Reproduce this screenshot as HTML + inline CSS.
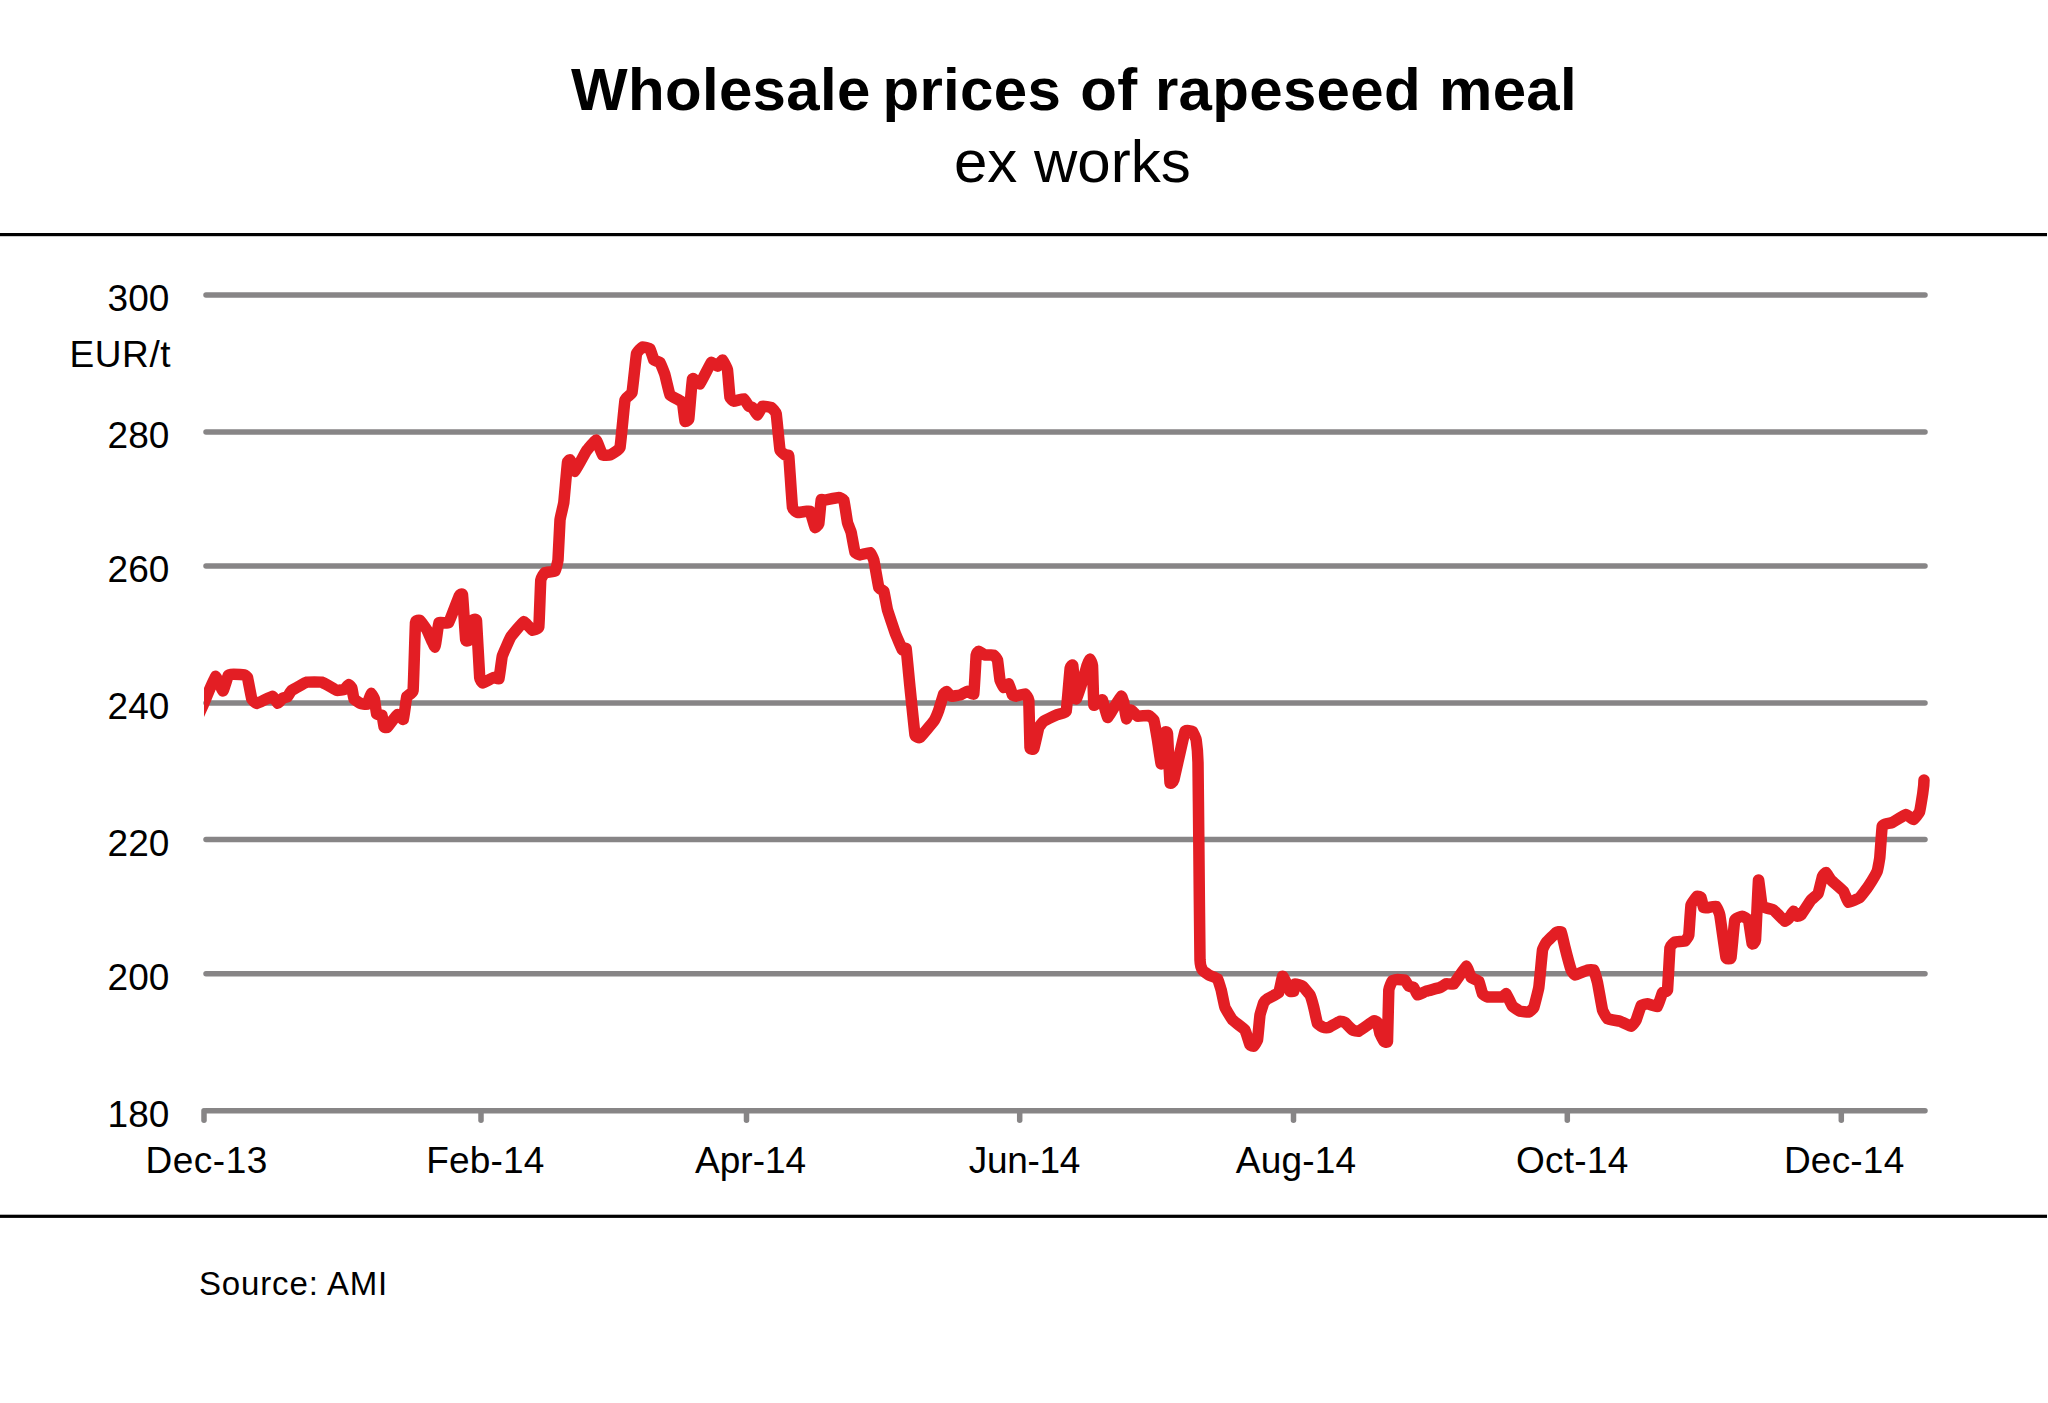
<!DOCTYPE html>
<html><head><meta charset="utf-8"><title>Wholesale prices of rapeseed meal</title>
<style>
html,body{margin:0;padding:0;background:#fff;}
body{width:2048px;height:1403px;overflow:hidden;font-family:"Liberation Sans",sans-serif;}
svg{display:block;}
text{font-family:"Liberation Sans",sans-serif;fill:#000;}
.ax text{font-size:37px;}
</style></head><body>
<svg width="2048" height="1403" viewBox="0 0 2048 1403">
<rect width="2048" height="1403" fill="#fff"/>
<text x="571" y="109.5" font-size="60" font-weight="bold" letter-spacing="0.32">Wholesale <tspan dx="-5.2">prices</tspan> <tspan dx="2.2">of</tspan> <tspan dx="0.3">rapeseed</tspan> <tspan dx="1">meal</tspan></text>
<text x="1072.3" y="181.5" text-anchor="middle" font-size="60">ex works</text>
<rect x="0" y="233" width="2047" height="3.2" fill="#000"/>
<rect x="0" y="1214.7" width="2047" height="3.2" fill="#000"/>
<g stroke="#878586" stroke-width="5.5" stroke-linecap="round" fill="none">
<line x1="206" y1="295" x2="1925" y2="295"/>
<line x1="206" y1="432" x2="1925" y2="432"/>
<line x1="206" y1="566" x2="1925" y2="566"/>
<line x1="206" y1="703" x2="1925" y2="703"/>
<line x1="206" y1="839.5" x2="1925" y2="839.5"/>
<line x1="206" y1="973.8" x2="1925" y2="973.8"/>
<line x1="206" y1="1110.8" x2="1925" y2="1110.8"/>
<line x1="204" y1="1110.8" x2="204" y2="1120.3"/>
<line x1="481" y1="1110.8" x2="481" y2="1120.3"/>
<line x1="746.5" y1="1110.8" x2="746.5" y2="1120.3"/>
<line x1="1019.7" y1="1110.8" x2="1019.7" y2="1120.3"/>
<line x1="1293.5" y1="1110.8" x2="1293.5" y2="1120.3"/>
<line x1="1567.3" y1="1110.8" x2="1567.3" y2="1120.3"/>
<line x1="1841.3" y1="1110.8" x2="1841.3" y2="1120.3"/>
</g>
<g class="ax">
<text x="169.3" y="311" text-anchor="end">300</text>
<text x="169.3" y="448" text-anchor="end">280</text>
<text x="169.3" y="582" text-anchor="end">260</text>
<text x="169.3" y="719" text-anchor="end">240</text>
<text x="169.3" y="855.5" text-anchor="end">220</text>
<text x="169.3" y="989.8" text-anchor="end">200</text>
<text x="169.3" y="1126.8" text-anchor="end">180</text>
<text x="171.2" y="367" text-anchor="end" letter-spacing="0.6">EUR/t</text>
<text x="206.7" y="1172.5" text-anchor="middle" letter-spacing="0.5">Dec-13</text>
<text x="485.4" y="1172.5" text-anchor="middle" letter-spacing="0.2">Feb-14</text>
<text x="750.6" y="1172.5" text-anchor="middle" letter-spacing="0.0">Apr-14</text>
<text x="1024.4" y="1172.5" text-anchor="middle" letter-spacing="-0.3">Jun-14</text>
<text x="1296.1" y="1172.5" text-anchor="middle" letter-spacing="0.2">Aug-14</text>
<text x="1572.3" y="1172.5" text-anchor="middle" letter-spacing="0.3">Oct-14</text>
<text x="1844.2" y="1172.5" text-anchor="middle" letter-spacing="0.2">Dec-14</text>
</g>
<text x="199" y="1295.3" font-size="33" letter-spacing="0.85">Source: AMI</text>
<defs><clipPath id="cp"><rect x="204" y="250" width="1760" height="900"/></clipPath></defs>
<path clip-path="url(#cp)" d="M198.0,716.5 C198.2,715.9 203.3,704.7 204.0,703.0 C204.7,701.3 214.6,676.9 215.4,676.4 C216.2,675.9 222.5,691.0 223.0,691.0 C223.5,691.0 227.9,676.1 228.3,675.4 C228.7,674.7 233.0,674.3 233.7,674.3 C234.4,674.3 243.9,674.8 244.5,674.9 C245.1,675.0 247.2,676.5 247.5,677.5 C247.8,678.5 251.4,697.9 251.8,699.0 C252.2,700.1 256.0,703.6 256.9,703.5 C257.8,703.4 271.5,696.2 272.4,696.2 C273.3,696.2 277.4,703.2 277.8,703.3 C278.2,703.4 282.7,698.2 283.1,697.9 C283.5,697.6 287.0,697.1 287.4,696.8 C287.8,696.5 290.9,691.0 291.7,690.4 C292.5,689.8 305.5,682.5 306.8,682.2 C308.1,681.9 320.6,681.9 321.8,682.2 C323.1,682.5 335.9,690.1 336.8,690.4 C337.7,690.7 343.9,689.5 344.4,689.3 C344.9,689.0 348.4,684.4 348.7,684.4 C349.0,684.4 351.7,687.6 351.9,688.2 C352.1,688.8 353.6,698.4 354.0,699.0 C354.4,699.6 360.0,703.1 360.5,703.3 C361.0,703.5 366.5,704.8 366.9,704.4 C367.3,704.0 370.9,693.8 371.2,693.6 C371.5,693.4 374.2,698.1 374.4,699.0 C374.6,699.9 376.3,713.3 376.6,714.0 C376.9,714.7 381.7,714.6 382.0,715.1 C382.3,715.6 383.9,726.4 384.1,726.9 C384.3,727.4 386.7,727.8 387.3,727.3 C387.9,726.8 396.7,714.8 397.4,714.5 C398.1,714.2 403.0,720.1 403.4,719.4 C403.8,718.7 406.3,698.0 406.7,696.8 C407.1,695.6 412.7,693.5 413.1,690.4 C413.5,687.3 415.2,625.6 415.5,622.7 C415.8,619.8 419.5,620.1 420.0,620.4 C420.5,620.7 426.5,629.1 427.1,630.2 C427.7,631.3 434.5,647.3 435.0,647.0 C435.5,646.7 438.3,623.7 438.9,622.7 C439.5,621.7 447.8,623.8 448.6,622.7 C449.5,621.6 458.7,597.1 459.3,595.9 C459.9,594.7 462.2,593.0 462.5,594.8 C462.8,596.6 465.4,638.0 465.7,639.9 C466.0,641.8 468.7,640.7 469.0,639.9 C469.3,639.1 471.9,621.4 472.2,620.6 C472.5,619.8 476.2,618.2 476.5,620.6 C476.8,623.0 479.4,674.9 479.7,677.5 C480.0,680.1 482.3,682.9 482.9,682.9 C483.5,682.9 493.0,677.7 493.7,677.5 C494.4,677.3 498.6,679.5 499.0,678.6 C499.4,677.7 501.8,657.7 502.3,656.0 C502.8,654.3 510.0,638.1 510.9,636.7 C511.8,635.3 522.9,621.9 523.8,621.6 C524.7,621.3 531.7,630.0 532.3,630.2 C532.9,630.4 538.4,629.1 538.8,627.0 C539.2,624.9 540.5,582.3 540.8,580.0 C541.1,577.7 544.4,572.9 545.0,572.5 C545.6,572.1 554.5,571.7 555.0,571.2 C555.5,570.7 557.8,562.1 558.0,560.0 C558.2,557.9 559.8,522.4 560.0,520.0 C560.2,517.6 563.5,504.9 563.8,502.5 C564.1,500.1 567.2,464.3 567.5,462.5 C567.8,460.7 569.7,459.6 570.0,460.0 C570.3,460.4 574.3,471.6 575.0,471.2 C575.7,470.8 585.3,452.5 586.2,451.2 C587.1,449.9 595.5,439.8 596.2,440.0 C596.9,440.2 601.9,454.4 602.5,455.0 C603.1,455.6 609.3,455.3 610.0,455.0 C610.7,454.7 619.4,449.8 620.0,447.5 C620.6,445.2 624.5,402.3 625.0,400.0 C625.5,397.7 631.5,394.4 632.0,392.5 C632.5,390.6 636.1,355.7 636.5,353.8 C636.9,351.9 641.9,347.2 642.5,347.0 C643.1,346.8 649.5,348.3 650.0,348.8 C650.5,349.3 653.4,359.4 653.8,360.0 C654.2,360.6 659.5,361.9 660.0,362.5 C660.5,363.1 664.6,373.6 665.0,375.0 C665.4,376.4 669.4,394.0 670.0,395.0 C670.6,396.0 678.3,399.7 678.8,400.0 C679.3,400.3 682.2,401.6 682.5,402.5 C682.8,403.4 684.7,420.5 685.0,421.2 C685.3,421.9 688.5,420.6 688.8,418.8 C689.1,417.0 692.0,380.3 692.5,378.8 C693.0,377.3 699.2,384.5 700.0,383.8 C700.8,383.1 710.5,363.2 711.2,362.5 C711.9,361.8 717.0,366.3 717.5,366.2 C718.0,366.1 722.1,359.8 722.5,360.0 C722.9,360.2 727.2,368.4 727.5,370.0 C727.8,371.6 729.7,396.2 730.0,397.5 C730.3,398.8 733.2,401.1 733.8,401.2 C734.4,401.3 743.2,398.6 743.8,398.8 C744.4,399.0 748.4,405.8 748.8,406.2 C749.2,406.6 752.1,407.1 752.5,407.5 C752.9,407.9 757.1,415.1 757.5,415.0 C757.9,414.9 761.9,406.5 762.5,406.2 C763.1,405.9 770.6,407.2 771.2,407.5 C771.8,407.8 775.8,412.0 776.2,413.8 C776.6,415.6 779.6,448.3 780.0,450.0 C780.4,451.7 784.6,454.7 785.0,455.0 C785.4,455.3 788.5,454.0 788.8,456.2 C789.1,458.4 792.1,505.2 792.5,507.5 C792.9,509.8 796.8,512.3 797.5,512.5 C798.2,512.7 809.3,510.6 810.0,511.2 C810.7,511.8 814.6,527.0 815.0,527.5 C815.4,528.0 818.5,524.9 818.8,523.8 C819.1,522.7 820.9,501.0 821.2,500.0 C821.5,499.0 824.3,500.1 825.0,500.0 C825.7,499.9 838.0,497.5 838.8,497.5 C839.6,497.5 843.4,499.0 843.8,500.0 C844.2,501.0 847.2,521.1 847.5,522.5 C847.8,523.9 850.9,531.2 851.2,532.5 C851.5,533.8 854.6,551.6 855.0,552.5 C855.4,553.4 859.4,555.0 860.0,555.0 C860.6,555.0 869.4,552.3 870.0,552.5 C870.6,552.7 873.4,558.5 873.8,560.0 C874.2,561.5 878.4,586.2 878.8,587.5 C879.2,588.8 883.4,590.3 883.8,591.2 C884.2,592.1 887.0,608.3 887.5,610.0 C888.0,611.7 894.4,630.8 895.0,632.5 C895.6,634.2 902.0,649.3 902.5,650.0 C903.0,650.7 905.9,647.2 906.2,648.8 C906.5,650.4 909.6,683.9 910.0,687.5 C910.4,691.1 914.6,732.9 915.0,735.0 C915.4,737.1 919.2,738.1 920.0,737.5 C920.8,736.9 933.0,722.3 933.8,721.2 C934.6,720.1 938.4,711.1 938.8,710.0 C939.2,708.9 943.2,695.3 943.5,694.5 C943.8,693.7 946.2,691.4 946.5,691.5 C946.8,691.6 950.6,696.1 951.2,696.2 C951.8,696.3 959.3,695.2 960.0,695.0 C960.7,694.8 966.9,691.2 967.5,691.2 C968.1,691.2 973.4,695.3 973.8,693.8 C974.2,692.3 976.0,656.8 976.2,655.0 C976.4,653.2 978.4,651.2 978.8,651.2 C979.2,651.2 984.4,654.8 985.0,655.0 C985.6,655.2 993.3,654.8 993.8,655.0 C994.3,655.2 997.2,659.0 997.5,660.0 C997.8,661.0 999.7,678.9 1000.0,680.0 C1000.3,681.1 1003.4,687.3 1003.8,687.5 C1004.2,687.7 1008.4,683.5 1008.8,683.8 C1009.2,684.1 1012.2,694.5 1012.5,695.0 C1012.8,695.5 1015.7,696.2 1016.2,696.2 C1016.7,696.2 1024.5,693.6 1025.0,693.8 C1025.5,694.0 1028.6,697.8 1028.8,700.0 C1029.0,702.2 1029.8,745.5 1030.0,747.5 C1030.2,749.5 1033.4,749.6 1033.8,748.8 C1034.2,748.0 1038.4,728.6 1038.8,727.5 C1039.2,726.4 1043.0,721.7 1043.8,721.2 C1044.6,720.7 1056.6,714.9 1057.5,714.5 C1058.4,714.1 1065.7,713.1 1066.2,711.2 C1066.7,709.3 1069.9,669.9 1070.2,668.0 C1070.5,666.1 1072.5,664.2 1072.8,665.5 C1073.0,666.8 1075.8,698.1 1076.2,698.8 C1076.6,699.5 1082.0,682.6 1082.5,681.2 C1083.0,679.8 1086.7,666.4 1087.0,665.5 C1087.3,664.6 1089.8,659.0 1090.0,659.0 C1090.2,659.0 1092.3,663.6 1092.5,665.5 C1092.7,667.4 1093.6,703.5 1093.8,705.0 C1094.0,706.5 1097.1,702.7 1097.5,702.5 C1097.9,702.3 1102.1,699.4 1102.5,700.0 C1102.9,700.6 1107.1,717.1 1107.5,717.5 C1107.9,717.9 1111.9,710.9 1112.5,710.0 C1113.1,709.1 1120.7,696.5 1121.2,696.2 C1121.7,695.9 1123.6,701.6 1123.8,702.5 C1124.0,703.4 1125.9,718.5 1126.2,718.8 C1126.5,719.1 1130.7,710.1 1131.2,710.0 C1131.7,709.9 1136.8,716.0 1137.5,716.2 C1138.2,716.4 1148.1,715.3 1148.8,715.5 C1149.5,715.7 1153.4,719.0 1153.8,720.0 C1154.2,721.0 1157.2,738.2 1157.5,740.0 C1157.8,741.8 1160.9,764.1 1161.2,763.8 C1161.5,763.5 1164.7,733.8 1165.0,732.5 C1165.3,731.2 1167.3,731.7 1167.5,733.8 C1167.7,735.9 1169.7,780.6 1170.0,782.5 C1170.3,784.4 1173.2,782.1 1173.8,780.0 C1174.4,777.9 1184.2,733.5 1185.0,731.5 C1185.8,729.5 1192.0,731.1 1192.5,731.5 C1193.0,731.9 1196.0,738.7 1196.2,740.0 C1196.4,741.3 1197.9,758.3 1198.0,762.5 C1198.1,766.7 1198.7,831.8 1198.8,840.0 C1198.9,848.2 1199.8,954.6 1200.0,960.0 C1200.2,965.4 1202.1,969.4 1202.5,970.0 C1202.9,970.6 1208.2,974.6 1208.8,975.0 C1209.4,975.4 1217.0,978.2 1217.5,978.8 C1218.0,979.4 1220.9,988.8 1221.2,990.0 C1221.5,991.2 1224.5,1006.2 1225.0,1007.5 C1225.5,1008.8 1231.7,1019.1 1232.5,1020.0 C1233.3,1020.9 1244.3,1029.0 1245.0,1030.0 C1245.7,1031.0 1249.6,1044.3 1250.0,1045.0 C1250.4,1045.7 1253.5,1046.4 1253.8,1046.2 C1254.1,1046.0 1257.2,1041.3 1257.5,1040.0 C1257.8,1038.7 1259.7,1016.6 1260.0,1015.0 C1260.3,1013.4 1263.5,1003.2 1263.8,1002.5 C1264.1,1001.8 1266.9,999.2 1267.5,998.8 C1268.1,998.4 1278.2,993.4 1278.8,992.5 C1279.4,991.6 1282.2,976.6 1282.5,976.2 C1282.8,975.8 1285.9,981.9 1286.2,982.5 C1286.5,983.1 1289.7,990.8 1290.0,991.2 C1290.3,991.6 1293.6,991.5 1293.8,991.2 C1294.0,990.9 1294.6,984.0 1295.0,983.8 C1295.4,983.6 1301.9,985.7 1302.5,986.2 C1303.1,986.7 1309.5,994.1 1310.0,995.0 C1310.5,995.9 1313.5,1006.3 1313.8,1007.5 C1314.1,1008.7 1317.1,1023.0 1317.5,1023.8 C1317.9,1024.6 1323.3,1027.3 1323.8,1027.5 C1324.3,1027.7 1328.1,1027.8 1328.8,1027.5 C1329.5,1027.2 1339.3,1021.4 1340.0,1021.2 C1340.7,1021.0 1344.5,1022.1 1345.0,1022.5 C1345.5,1022.9 1351.9,1029.6 1352.5,1030.0 C1353.1,1030.4 1357.9,1031.6 1358.8,1031.2 C1359.7,1030.8 1373.0,1021.2 1373.8,1020.8 C1374.6,1020.4 1377.2,1022.0 1377.5,1022.5 C1377.8,1023.0 1379.7,1033.0 1380.0,1033.8 C1380.3,1034.6 1383.5,1040.9 1383.8,1041.2 C1384.1,1041.5 1387.3,1043.3 1387.5,1041.2 C1387.7,1039.1 1388.6,992.5 1388.8,990.0 C1389.0,987.5 1392.1,980.9 1392.5,980.5 C1392.9,980.1 1397.0,979.5 1397.5,979.5 C1398.0,979.5 1404.5,979.9 1405.0,980.2 C1405.5,980.5 1408.4,985.9 1408.8,986.2 C1409.2,986.5 1413.4,987.1 1413.8,987.5 C1414.2,987.9 1417.0,994.8 1417.5,995.0 C1418.0,995.2 1425.3,991.5 1426.2,991.2 C1427.1,990.9 1439.2,987.8 1440.0,987.5 C1440.8,987.2 1445.6,984.0 1446.2,983.8 C1446.8,983.6 1453.0,984.5 1453.8,983.8 C1454.6,983.1 1465.5,966.5 1466.2,966.2 C1466.9,965.9 1470.7,976.9 1471.2,977.5 C1471.7,978.1 1478.3,980.5 1478.8,981.2 C1479.3,981.9 1482.1,993.1 1482.5,993.8 C1482.9,994.5 1486.7,996.9 1487.5,997.0 C1488.3,997.1 1501.7,997.1 1502.5,997.0 C1503.3,996.9 1505.8,993.4 1506.2,993.8 C1506.6,994.2 1511.9,1005.5 1512.5,1006.2 C1513.1,1006.9 1519.3,1011.0 1520.0,1011.2 C1520.7,1011.4 1528.2,1012.2 1528.8,1012.0 C1529.4,1011.8 1533.4,1008.5 1533.8,1007.5 C1534.2,1006.5 1538.4,989.9 1538.8,987.5 C1539.2,985.1 1542.2,951.9 1542.5,950.0 C1542.8,948.1 1545.6,943.2 1546.2,942.5 C1546.8,941.8 1555.6,932.9 1556.2,932.5 C1556.8,932.1 1560.8,931.2 1561.2,931.8 C1561.6,932.4 1564.6,945.9 1565.0,947.5 C1565.4,949.1 1570.8,968.9 1571.2,970.0 C1571.6,971.1 1574.3,975.0 1575.0,975.0 C1575.7,975.0 1586.7,970.2 1587.5,970.0 C1588.3,969.8 1593.4,969.5 1593.8,970.0 C1594.2,970.5 1597.1,980.8 1597.5,982.5 C1597.9,984.2 1602.1,1008.5 1602.5,1010.0 C1602.9,1011.5 1606.8,1018.3 1607.5,1018.8 C1608.2,1019.3 1619.0,1020.9 1620.0,1021.2 C1621.0,1021.5 1630.5,1026.2 1631.2,1026.2 C1631.9,1026.2 1635.8,1020.9 1636.2,1020.0 C1636.6,1019.1 1640.7,1006.2 1641.2,1005.5 C1641.7,1004.8 1646.8,1003.8 1647.5,1003.8 C1648.2,1003.8 1656.9,1007.0 1657.5,1006.5 C1658.1,1006.0 1662.1,993.2 1662.5,992.5 C1662.9,991.8 1667.2,991.9 1667.5,990.0 C1667.8,988.1 1669.7,949.5 1670.0,947.5 C1670.3,945.5 1674.4,942.3 1675.0,942.0 C1675.6,941.7 1684.4,941.5 1685.0,941.2 C1685.6,940.9 1688.5,936.5 1688.8,935.0 C1689.0,933.5 1690.7,906.6 1691.0,905.0 C1691.3,903.4 1696.8,896.5 1697.2,896.2 C1697.6,895.9 1700.7,897.0 1701.0,897.5 C1701.3,898.0 1703.2,907.1 1703.5,907.5 C1703.8,907.9 1708.0,907.6 1708.5,907.5 C1709.0,907.4 1715.5,905.9 1716.0,906.2 C1716.5,906.5 1719.4,912.9 1719.8,915.0 C1720.2,917.1 1725.5,955.7 1726.0,957.5 C1726.5,959.3 1730.6,959.1 1731.0,957.5 C1731.4,955.9 1734.3,921.7 1734.8,920.0 C1735.3,918.3 1741.6,916.2 1742.2,916.2 C1742.8,916.2 1748.1,918.9 1748.5,920.0 C1748.9,921.1 1751.9,943.0 1752.2,943.8 C1752.5,944.6 1755.2,942.7 1755.5,940.0 C1755.8,937.3 1758.2,881.4 1758.5,880.0 C1758.8,878.6 1761.6,905.0 1762.2,906.2 C1762.8,907.5 1772.6,909.4 1773.5,910.0 C1774.4,910.6 1784.2,920.8 1784.8,921.2 C1785.4,921.6 1788.1,919.2 1788.5,918.8 C1788.9,918.4 1793.1,911.3 1793.5,911.2 C1793.9,911.1 1796.9,916.0 1797.2,916.2 C1797.5,916.4 1800.4,915.7 1801.0,915.0 C1801.6,914.3 1810.3,900.9 1811.0,900.0 C1811.7,899.1 1817.5,894.8 1818.0,893.8 C1818.5,892.8 1822.2,877.1 1822.5,876.2 C1822.8,875.3 1825.6,872.3 1826.0,872.5 C1826.4,872.7 1830.3,879.2 1831.0,880.0 C1831.7,880.8 1842.8,890.3 1843.5,891.2 C1844.2,892.1 1847.8,902.2 1848.5,902.5 C1849.2,902.8 1859.0,898.2 1859.8,897.5 C1860.6,896.8 1867.8,887.3 1868.5,886.2 C1869.2,885.1 1876.7,872.4 1877.2,871.2 C1877.7,870.0 1879.6,859.4 1879.8,857.5 C1880.0,855.6 1881.9,827.6 1882.2,826.2 C1882.5,824.8 1885.6,824.0 1886.0,823.8 C1886.4,823.6 1891.4,822.9 1892.2,822.5 C1893.0,822.1 1905.1,814.6 1906.0,814.5 C1906.9,814.4 1912.9,819.6 1913.5,819.5 C1914.1,819.4 1919.1,813.1 1919.5,812.0 C1919.9,810.9 1922.6,794.3 1922.8,793.0 C1923.0,791.7 1924.0,780.5 1924.0,780.0" fill="none" stroke="#e31e24" stroke-width="11.5" stroke-linejoin="round" stroke-linecap="round"/>
</svg>
</body></html>
